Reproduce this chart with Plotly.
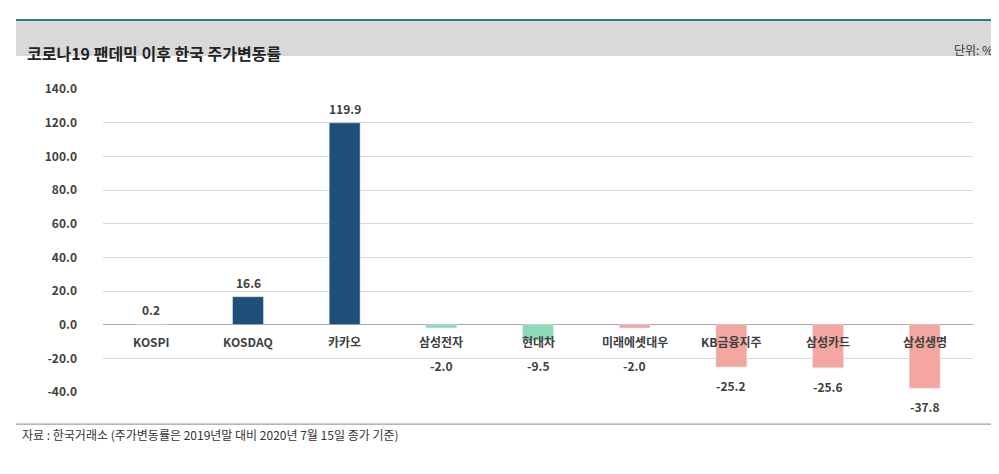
import plotly.graph_objects as go

categories = ['KOSPI', 'KOSDAQ', '카카오', '삼성전자', '현대차', '미래에셋대우', 'KB금융지주', '삼성카드', '삼성생명']
changes = [0.2, 16.6, 119.9, -2.0, -9.5, -2.0, -25.2, -25.6, -37.8]
colors = ['#1F4E79', '#1F4E79', '#1F4E79', '#8FD9B6', '#8FD9B6', '#F4A6A0', '#F4A6A0', '#F4A6A0', '#F4A6A0']

FONT = 'Noto Sans CJK KR'
px_per_unit = 303 / 180  # plot height / y range

fig = go.Figure(go.Bar(x=categories, y=changes, marker_color=colors, width=0.32, cliponaxis=False))

for c, v in zip(categories, changes):
    # category name just under the zero line
    fig.add_annotation(x=c, y=0, text=f'<b>{c}</b>', showarrow=False, yanchor='top', yshift=-6,
                       font=dict(size=12, color='#404040', family=FONT))
    if v >= 0:
        fig.add_annotation(x=c, y=v, text=f'<b>{v:.1f}</b>', showarrow=False, yanchor='bottom', yshift=4,
                           font=dict(size=12, color='#404040', family=FONT))
    else:
        shift = max(8, 30 - (-v) * px_per_unit)
        fig.add_annotation(x=c, y=v, text=f'<b>{v:.1f}</b>', showarrow=False, yanchor='top', yshift=-shift,
                           font=dict(size=12, color='#404040', family=FONT))

fig.add_shape(type='rect', xref='paper', yref='paper', x0=-0.1, x1=1.03, y0=1.109, y1=1.228,
              fillcolor='#D9D9D9', line_width=0, layer='below')
fig.add_shape(type='line', xref='paper', yref='paper', x0=-0.1, x1=1.03, y0=1.228, y1=1.228,
              line=dict(color='#2E7D8C', width=2))
fig.add_shape(type='line', xref='paper', yref='paper', x0=-0.1, x1=1.03, y0=-0.106, y1=-0.106,
              line=dict(color='#888', width=1))
fig.add_annotation(xref='paper', yref='paper', x=-0.09, y=1.165, text='<b>코로나19 팬데믹 이후 한국 주가변동률</b>',
                   showarrow=False, xanchor='left', font=dict(size=16, color='#222', family=FONT))
fig.add_annotation(xref='paper', yref='paper', x=1.025, y=1.165, text='단위: %',
                   showarrow=False, xanchor='right', font=dict(size=12, color='#333', family=FONT))
fig.add_annotation(xref='paper', yref='paper', x=-0.095, y=-0.175, text='자료 : 한국거래소 (주가변동률은 2019년말 대비 2020년 7월 15일 종가 기준)',
                   showarrow=False, xanchor='left', font=dict(size=12, color='#333', family=FONT))

fig.update_layout(
    width=999, height=474, margin=dict(l=95, r=34, t=81, b=90),
    plot_bgcolor='white', paper_bgcolor='white', showlegend=False,
    font=dict(family=FONT),
)
fig.update_xaxes(showticklabels=False, showgrid=False)
fig.update_yaxes(range=[-40, 140], dtick=20, gridcolor='#D9D9D9',
                 tickvals=[-40, -20, 0, 20, 40, 60, 80, 100, 120, 140],
                 ticktext=[f'<b>{t:.1f}</b>' for t in [-40, -20, 0, 20, 40, 60, 80, 100, 120, 140]],
                 zeroline=True, zerolinecolor='#A6A6A6', zerolinewidth=1,
                 tickfont=dict(size=12, color='#404040'), ticks='', ticklabelstandoff=25)

fig.write_html('out.html')
